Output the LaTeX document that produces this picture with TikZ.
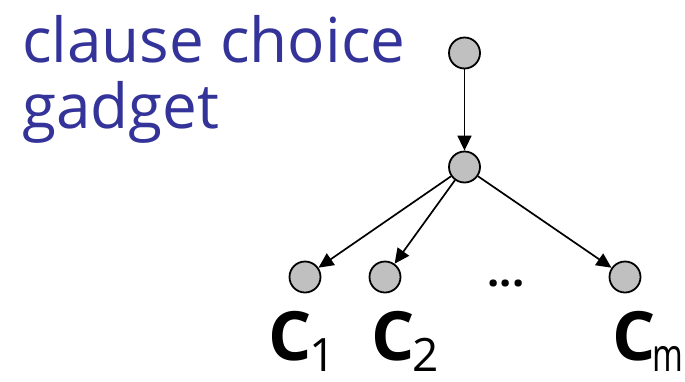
\documentclass[tikz,border=0pt]{standalone}
\usepackage{fontspec}
\setmainfont{Open Sans}
\usetikzlibrary{arrows.meta,positioning}
\definecolor{ink}{HTML}{333399}
\definecolor{vfill}{HTML}{C0C0C0}
\tikzset{
  vert/.style={
    circle, draw=black, fill=vfill, line width=1.8pt,
    minimum size=31pt, inner sep=0pt
  },
  arrow/.style={-{Triangle[length=15pt,width=14pt]}, line width=1.7pt},
  title/.style={
    text=ink, inner sep=0pt,
    font=\fontsize{62}{66}\selectfont
  },
  clabel/.style={inner sep=0pt, font=\fontsize{68}{68}\selectfont\bfseries},
}
\newcommand{\idx}[1]{\raisebox{-11pt}{\fontsize{46}{46}\selectfont\mdseries #1}}

\begin{document}
\begin{tikzpicture}[x=1pt, y=-1pt]
  \useasboundingbox (0,0) rectangle (685,381);
  % title text
  \node[title, anchor=base west] (head1) at (22,62) {clause choice};
  \node[title, anchor=base west] (head2) at (22,128) {gadget};
  % gadget vertices
  \node[vert] (top) at (464.5,53) {};
  \node[vert] (mid) at (464.5,167) {};
  \node[vert] (c1) at (305,277) {};
  \node[vert] (c2) at (385,277) {};
  \node[vert] (cm) at (625,277) {};
  \node[inner sep=0pt, anchor=base, font=\fontsize{43}{43}\selectfont\bfseries] (dots) at (506,286) {...};
  % clause labels
  \node[clabel, anchor=base west] (l1) at (268,360) {C\kern-2pt\idx{1}};
  \node[clabel, anchor=base west] (l2) at (371,360) {C\kern-2pt\idx{2}};
  \node[clabel, anchor=base west] (lm) at (612,360) {C\kern-3pt\idx{\scalebox{0.72}[1]{m}}};
  \draw[arrow] (top) -- (mid);
  \draw[arrow] (mid) -- (c1);
  \draw[arrow] (mid) -- (c2);
  \draw[arrow] (mid) -- (cm);
\end{tikzpicture}
\end{document}
